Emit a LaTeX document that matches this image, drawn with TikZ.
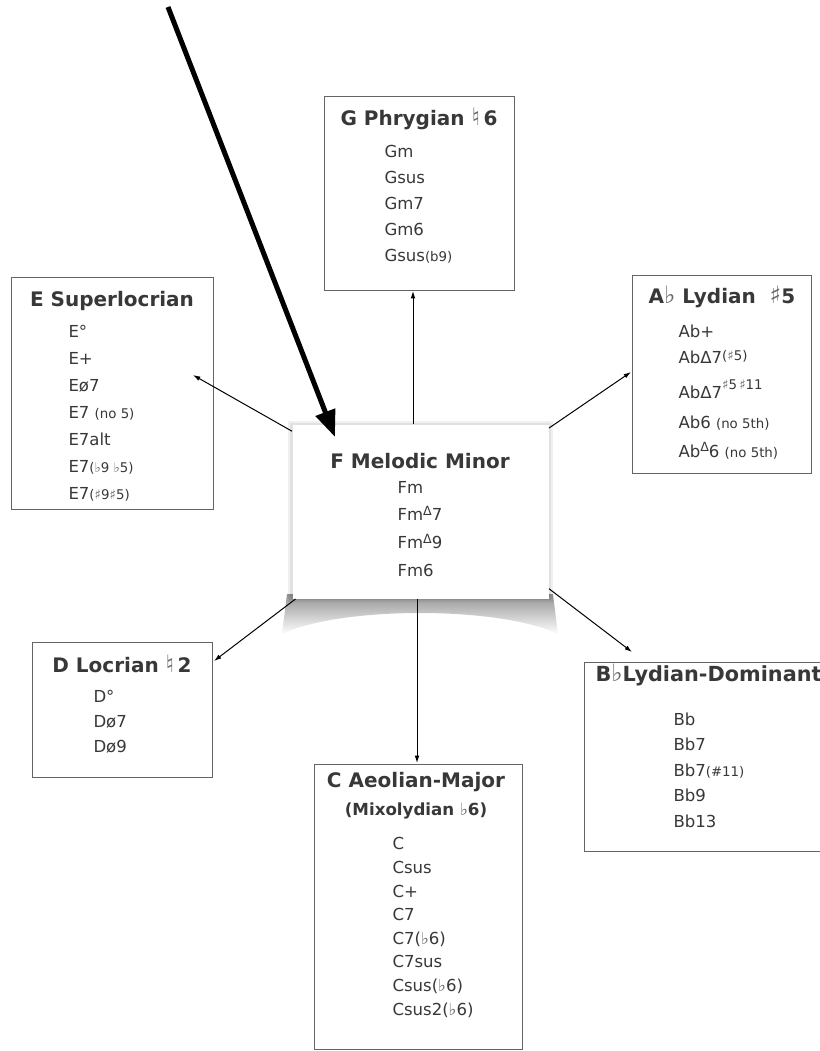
\documentclass[tikz,border=0pt]{standalone}
\usepackage{fontspec}
\setmainfont{DejaVu Sans}
\usetikzlibrary{arrows.meta,shadows,fadings}

\definecolor{txtgray}{RGB}{56,56,56}
\definecolor{accgray}{RGB}{105,105,105}
\definecolor{boxgray}{RGB}{100,100,100}

\newcommand{\smalltxt}[1]{{\fontsize{10}{10}\selectfont #1}}
\newcommand{\supdelta}{\raisebox{0.32em}{\fontsize{9.5}{9.5}\selectfont Δ}}
\newcommand{\accid}[1]{{\mdseries\color{accgray}#1}}
\newcommand{\bigaccid}[1]{{\mdseries\color{accgray}\fontsize{18}{18}\selectfont #1}}

\tikzset{every picture/.style={line width=0.75pt}}
\tikzset{
  modebox/.style={draw=boxgray, fill=white, anchor=north west, inner sep=0pt},
  boxsize/.style 2 args={minimum width=#1*0.75pt, minimum height=#2*0.75pt},
  modetitle/.style={font=\bfseries\fontsize{15}{18}\selectfont, text=txtgray, anchor=base, inner sep=0pt},
  % placed at the baseline of the last line
  chordlist/.style={font=\fontsize{12.4}{#1}\selectfont, text=txtgray, align=left, anchor=base west, inner sep=0pt},
  modearrow/.style={-{Latex[length=5.5pt,width=3.5pt]}},
  bigarrow/.style={line width=3.75pt, -{Triangle[length=20pt,width=15pt]}}
}

\begin{document}
\begin{tikzpicture}[x=0.75pt,y=0.75pt,yscale=-1,xscale=1]
\useasboundingbox (0,0) rectangle (820,1051);
\clip (0,0) rectangle (820,1051);
\fill [white] (0,0) rectangle (820,1051);

%Shape: Rectangle [G Phrygian]
\node [modebox, boxsize={190}{194}] (boxG) at (324,96) {};
%Shape: Rectangle [E Superlocrian]
\node [modebox, boxsize={202}{232}] (boxE) at (11,277) {};
%Shape: Rectangle [Ab Lydian]
\node [modebox, boxsize={179}{198}] (boxAb) at (632,275) {};
%Shape: Rectangle [D Locrian]
\node [modebox, boxsize={180}{135}] (boxD) at (32,642) {};
%Shape: Rectangle [Bb Lydian-Dominant]
\node [modebox, boxsize={256}{189}] (boxBb) at (584,662) {};
%Shape: Rectangle [C Aeolian-Major]
\node [modebox, boxsize={208}{285}] (boxC) at (314,764) {};

%Shape: Curled shadow under F
\shade [left color=gray!85, middle color=gray!35, right color=gray!85, path fading=south] (287,594) -- (553,594) -- (558,634) .. controls (500,606) and (340,606) .. (282,634) -- cycle ;
%Shape: Rectangle [F Melodic Minor]
\node [modebox, draw=none, boxsize={256}{174},
  general shadow={fill=black, opacity=0.06, shadow scale=1.035},
  general shadow={fill=black, opacity=0.06, shadow scale=1.018}] (boxF) at (292,424) {};

% Arrow ends
\coordinate (tipG) at (413,291);
\coordinate (tipE) at (193,375);
\coordinate (tipAb) at (631,372);
\coordinate (tipD) at (214,661);
\coordinate (tipBb) at (632,652);
\coordinate (tipC) at (417,763);
\coordinate (bigstart) at (168,7);
\coordinate (bigtip) at (335,437);

%Straight Lines
\draw [modearrow] (boxF.north -| tipG) -- (tipG) ;
\draw [modearrow] (boxF.148) -- (tipE) ;
\draw [modearrow] (boxF.33) -- (tipAb) ;
\draw [modearrow] (boxF.215) -- (tipD) ;
\draw [modearrow] (boxF.329) -- (tipBb) ;
\draw [modearrow] (boxF.south -| tipC) -- (tipC) ;

% Text Node
\node [modetitle] (titleG) at (419,125) {G Phrygian \bigaccid{♮}\,6};
\node [chordlist={19.5pt}] (listG) at (384,261) {Gm\\Gsus\\Gm7\\Gm6\\Gsus\smalltxt{(b9)}};
% Text Node
\node [modetitle] (titleE) at (112,306) {E Superlocrian};
\node [chordlist={20.25pt}] (listE) at (68,499) {E°\\E+\\Eø7\\E7 \smalltxt{(no 5)}\\E7alt\\E7\smalltxt{(\accid{♭}9 \accid{♭}5)}\\E7\smalltxt{(\accid{♯}9\accid{♯}5)}};
% Text Node
\node [modetitle] (titleAb) at (722,303) {A\bigaccid{♭} Lydian \ \bigaccid{♯}5};
\node [chordlist={19.5pt}] (listAb) at (678,457) {Ab+\\AbΔ7\raisebox{0.15em}{\smalltxt{(\accid{♯}5)}}\\[6.75pt]AbΔ7\raisebox{0.5em}{\smalltxt{\accid{♯}5\,\accid{♯}11}}\\[3pt]Ab6 \smalltxt{(no 5th)}\\[2.25pt]Ab\supdelta6 \smalltxt{(no 5th)}};
% Text Node
\node [modetitle] (titleF) at (420,468) {F Melodic Minor};
\node [chordlist={20.75pt}] (listF) at (397,576) {Fm\\Fm\supdelta7\\Fm\supdelta9\\Fm6};
% Text Node
\node [modetitle] (titleD) at (122,672) {D Locrian \bigaccid{♮}\,2};
\node [chordlist={18.75pt}] (listD) at (93,752) {D°\\Dø7\\Dø9};
% Text Node
\node [modetitle, anchor=base west, font=\bfseries\fontsize{15.6}{18}\selectfont] (titleBb) at (595,681) {B\bigaccid{♭}Lydian-Dominant};
\node [chordlist={19.1pt}] (listBb) at (673,827) {Bb\\Bb7\\Bb7\smalltxt{(\#11)}\\Bb9\\Bb13};
% Text Node
\node [modetitle] (titleC) at (416,787) {C Aeolian-Major};
\node [modetitle, font=\bfseries\fontsize{12.5}{15}\selectfont] (subC) at (416,815) {(Mixolydian \accid{♭}6)};
\node [chordlist={17.7pt}] (listC) at (392,1015) {C\\Csus\\C+\\C7\\C7(\accid{♭}6)\\C7sus\\Csus(\accid{♭}6)\\Csus2(\accid{♭}6)};

%Straight Lines [big pointer]
\draw [bigarrow] (bigstart) -- (bigtip) ;

\end{tikzpicture}
\end{document}
